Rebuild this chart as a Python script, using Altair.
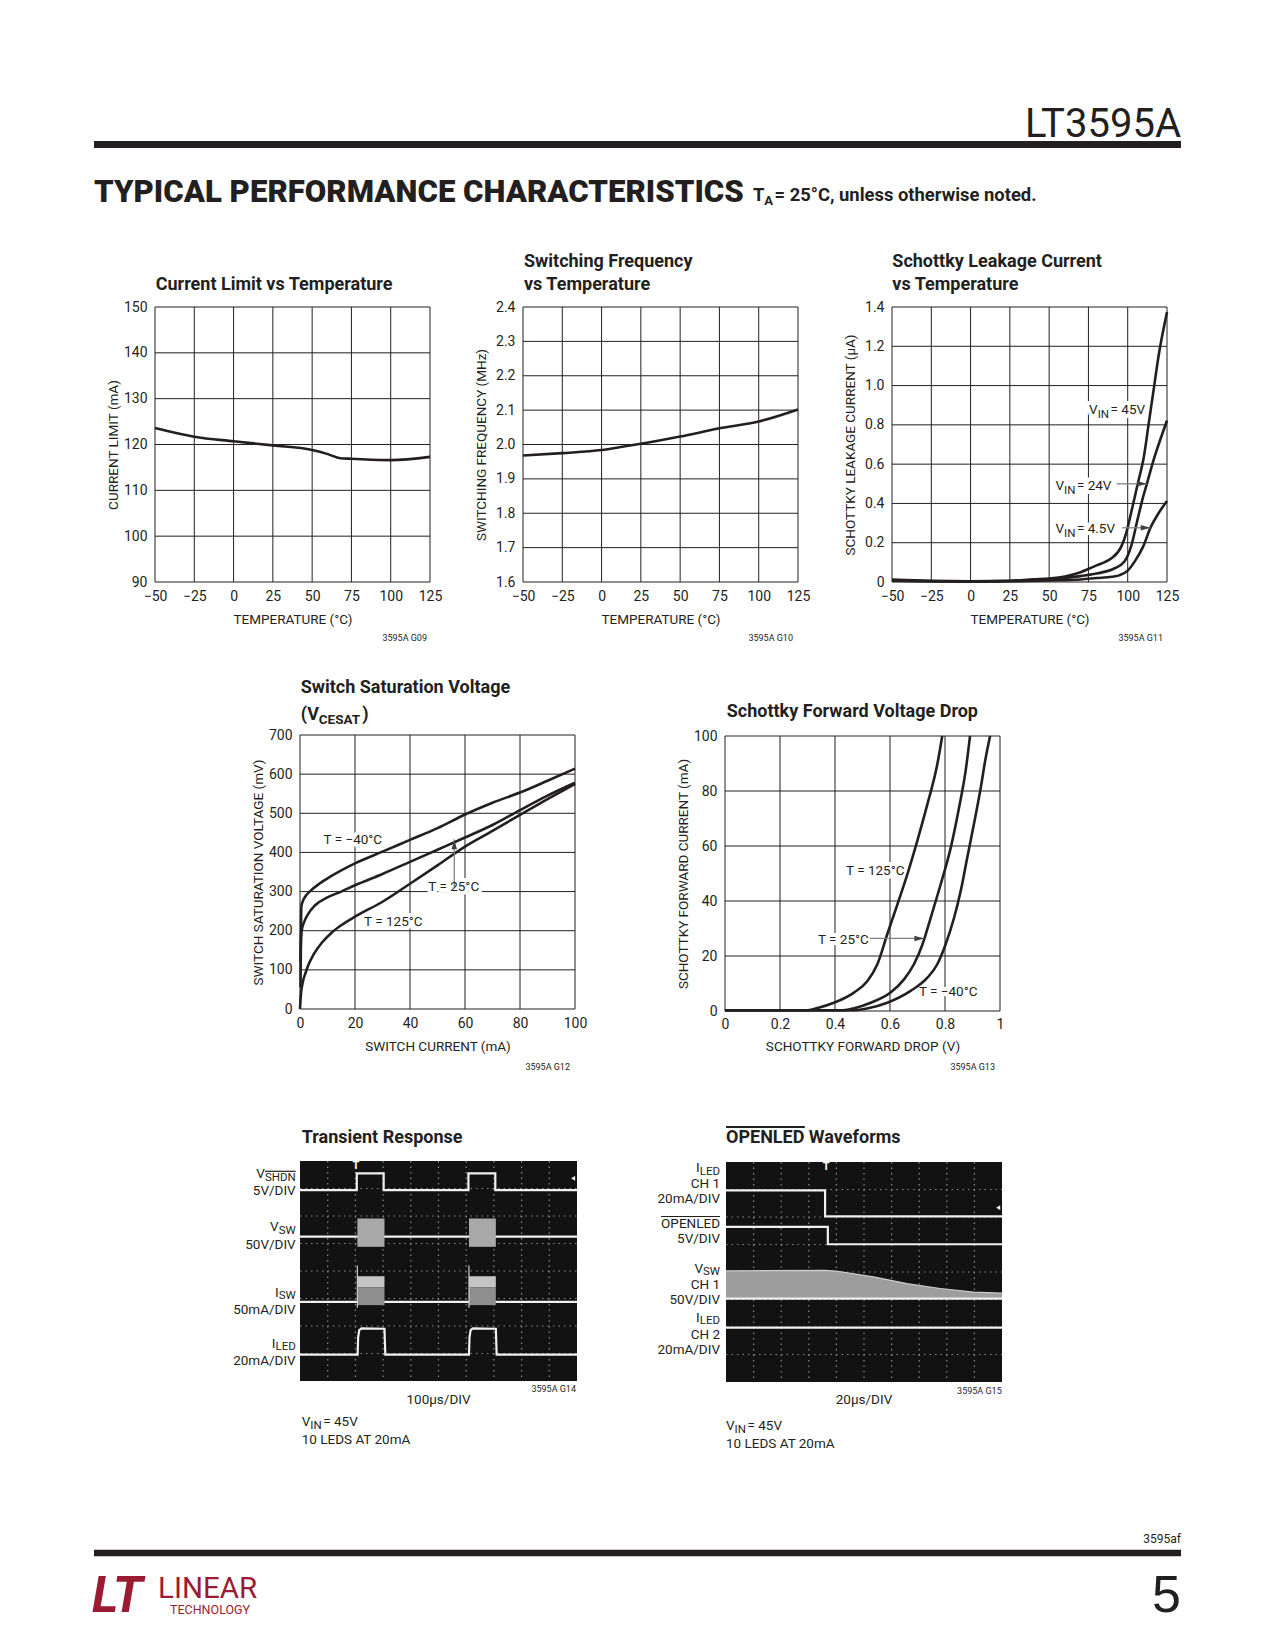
import altair as alt
import pandas as pd

# ============================ chart values ============================
# Current Limit vs Temperature
cl_temp = [-50, -25, 0, 25, 50, 60, 68, 75, 100, 125]
cl_ma = [123.6, 121.7, 120.7, 119.8, 118.8, 117.9, 117.0, 116.9, 116.6, 117.3]

# Switching Frequency vs Temperature
sf_temp = [-50, -25, 0, 14, 25, 50, 75, 100, 125]
sf_mhz = [1.968, 1.975, 1.984, 1.994, 2.002, 2.023, 2.047, 2.067, 2.102]

# Schottky Leakage Current vs Temperature
lk45_t = [-50, -25, 0, 25, 40, 50, 60, 70, 76, 81, 85, 89.7, 95.9, 99, 102.1, 106.2, 110.3, 113.4, 116.5, 119.6, 125]
lk45_ua = [0.012, 0.006, 0.004, 0.006, 0.014, 0.018, 0.028, 0.05, 0.07, 0.087, 0.1, 0.121, 0.18, 0.248, 0.35, 0.494, 0.639, 0.809, 0.979, 1.149, 1.375]
lk24_t = [-50, 0, 25, 50, 60, 70, 81, 91.7, 97.9, 102.1, 106.2, 109.3, 112.4, 116.5, 120.7, 125]
lk24_ua = [0.008, 0.003, 0.005, 0.013, 0.02, 0.03, 0.044, 0.07, 0.104, 0.18, 0.316, 0.418, 0.506, 0.622, 0.724, 0.822]
lk4_t = [-50, 0, 25, 50, 70, 80, 90, 95, 100, 104.5, 109.8, 114.5, 119.6, 125]
lk4_ua = [0.006, 0.002, 0.004, 0.008, 0.013, 0.02, 0.027, 0.035, 0.058, 0.105, 0.18, 0.277, 0.35, 0.412]

# Switch Saturation Voltage
sat_m40_ma = [0.2, 0.3, 0.4, 0.5, 1, 2, 4, 7, 11, 20, 30, 40, 50, 60, 70, 80, 90, 100]
sat_m40_mv = [55, 150, 230, 262, 275, 288, 303, 320, 338, 372, 402, 432, 462, 497, 527, 553, 583, 614]
sat_25_ma = [0.15, 0.3, 0.6, 1.5, 3, 5.5, 10, 15, 20, 30, 40, 50, 60, 70, 80, 90, 100]
sat_25_mv = [120, 165, 200, 222, 243, 265, 285, 300, 316, 345, 376, 407, 438, 470, 508, 545, 578]
sat_125_ma = [0, 0.3, 1, 2, 3, 5, 8, 11.5, 15, 20, 30, 40, 50, 60, 70, 80, 90, 100]
sat_125_mv = [0, 35, 68, 92, 112, 140, 170, 195, 214, 236, 274, 320, 367, 415, 455, 496, 536, 575]

# Schottky Forward Voltage Drop
fw125_v = [0, 0.30, 0.34, 0.396, 0.469, 0.518, 0.554, 0.590, 0.627, 0.663, 0.699, 0.736, 0.772, 0.790]
fw125_ma = [0.3, 0.3, 1.2, 3.0, 6.7, 10.9, 17, 27.9, 38.8, 49.7, 61.8, 75.2, 89.7, 100]
fw25_v = [0, 0.43, 0.47, 0.53, 0.602, 0.651, 0.687, 0.718, 0.748, 0.784, 0.821, 0.851, 0.875, 0.891]
fw25_ma = [0.3, 0.3, 1.0, 3.0, 6.7, 11.5, 17, 24.2, 33.9, 46, 59.4, 73.9, 87.3, 100]
fwm40_v = [0, 0.47, 0.52, 0.590, 0.675, 0.736, 0.772, 0.802, 0.833, 0.857, 0.881, 0.905, 0.930, 0.948, 0.964]
fwm40_ma = [0.3, 0.3, 1.0, 3.0, 7.3, 12.1, 17, 24.2, 33.9, 43.6, 55.8, 67.9, 81.2, 92.1, 100]

# Transient Response scope traces (time div 0..10, screen div 0..8 from top)
tr_shdn_t = [0, 2.05, 2.05, 3.02, 3.02, 6.08, 6.08, 7.05, 7.05, 10]
tr_shdn_y = [1.06, 1.06, 0.45, 0.45, 1.06, 1.06, 0.45, 0.45, 1.06, 1.06]
tr_vsw_base = 2.75
tr_isw_base = 5.12
tr_burst_on = [2.07, 6.1]
tr_burst_off = [3.05, 7.07]
tr_vsw_top, tr_vsw_bot = 2.09, 3.12
tr_isw_top, tr_isw_mid, tr_isw_bot = 4.19, 4.6, 5.24
tr_isw_spike = 3.8
tr_iled_t = [0, 2.08, 2.1, 2.14, 2.22, 3.05, 3.08, 6.1, 6.12, 6.16, 6.24, 7.07, 7.1, 10]
tr_iled_y = [7.04, 7.04, 6.4, 6.15, 6.09, 6.1, 7.04, 7.04, 6.4, 6.15, 6.09, 6.1, 7.04, 7.04]

# OPENLED Waveforms scope traces
ow_iled1_t = [0, 3.59, 3.59, 10]
ow_iled1_y = [1.03, 1.03, 1.98, 1.98]
ow_open_t = [0, 3.69, 3.69, 10]
ow_open_y = [2.36, 2.36, 2.99, 2.99]
ow_vsw_t = [0, 3.6, 4.0, 5.34, 6.55, 7.76, 8.97, 10]
ow_vsw_top = [3.96, 3.94, 3.97, 4.18, 4.42, 4.6, 4.73, 4.77]
ow_vsw_base = 4.97
ow_iled2 = 6.02

temp_ticks = [-50, -25, 0, 25, 50, 75, 100, 125]

# ============================ styling / layout ============================
OFF = 8
W, H = 1259, 1634
INK = "#231f20"
FONT = "Roboto, sans-serif"
WIDE = "Liberation Sans, Arial, sans-serif"
LOGO = "#9a1b32"
SCOPE_BG = "#121212"
TRACE = "#f0f0f0"
FS = 13.5     # regular text size
LS = 14       # tick label size
SUB = 11.5    # subscript size
SUBDY = 3.5
GAP = 1.6     # extra room after a subscript
TS = 18       # bold chart title size
ONE = pd.DataFrame({"k": [0]})


def _tbl(pairs):
    d = {}
    for chars, w in pairs:
        for c in chars:
            d[c] = w
    return d


# approximate Roboto advance widths (em)
REGW = _tbl([("0123456789", .562), (" ", .248), (".", .263), (",", .196), ("/", .411), ("=", .549),
             ("\u2212", .566), ("-", .276), ("(", .342), (")", .348), ("\u00b0", .377), ("\u00b5", .565),
             ("A", .652), ("B", .622), ("C", .652), ("D", .655), ("E", .568), ("F", .553), ("G", .682),
             ("H", .713), ("I", .272), ("L", .538), ("M", .873), ("N", .713), ("O", .688), ("P", .631),
             ("R", .616), ("S", .593), ("T", .597), ("U", .648), ("V", .636), ("W", .887), ("Y", .601)])
BOLDW = _tbl([("0123456789", .562), (" ", .243), ("(", .347), (")", .350), ("=", .55), ("\u00b0", .38),
              ("A", .668), ("C", .653), ("D", .657), ("E", .566), ("H", .714), ("I", .285), ("L", .547),
              ("N", .713), ("O", .688), ("P", .641), ("R", .625), ("S", .609), ("T", .612), ("V", .656),
              ("Y", .637)])


def wid(s, size, bold=False):
    t = BOLDW if bold else REGW
    return sum(t.get(c, .55) for c in s) * size


def ptext(x, y, s, size=FS, bold=False, align="left", baseline="alphabetic", color=INK,
          dx=0, dy=0, font=FONT, weight=None, **extra):
    mk = dict(text=s, font=font, fontSize=size,
              fontWeight=weight if weight else ("bold" if bold else "normal"),
              align=align, baseline=baseline, fill=color, dx=dx, dy=dy)
    mk.update(extra)
    return alt.Chart(ONE).mark_text(**mk).encode(x=alt.value(x - OFF), y=alt.value(y - OFF))


def part_widths(parts):
    # a subscript (dy > 0) followed by more text gets a little extra room
    ws = []
    for k, (s, sz, b, dy) in enumerate(parts):
        w = wid(s, sz, b)
        if dy > 0 and k < len(parts) - 1:
            w += GAP
        ws.append(w)
    return ws


def pcomp(x, y, parts, align="left", color=INK):
    ws = part_widths(parts)
    tot = sum(ws)
    cur = -tot if align == "right" else (-tot / 2 if align == "center" else 0)
    out = []
    for (s, sz, b, dy), w in zip(parts, ws):
        out.append(ptext(x, y, s, sz, b, "left", dx=round(cur, 2), dy=dy, color=color))
        cur += w
    return out


def prule(x1, x2, y, w, color=INK):
    return alt.Chart(ONE).mark_rule(color=color, strokeWidth=w).encode(
        x=alt.value(x1 - OFF), x2=alt.value(x2 - OFF), y=alt.value(y - OFF))


def enc_xy(xs, ys):
    return dict(x=alt.X("x:Q", scale=xs, axis=None), y=alt.Y("y:Q", scale=ys, axis=None))


def dcomp(xs, ys, xv, yv, parts, halo):
    df = pd.DataFrame({"x": [xv], "y": [yv]})
    ws = part_widths(parts)
    out = []
    cur = 0
    for (s, sz, b, dy), w in zip(parts, ws):
        mk = dict(text=s, font=FONT, fontSize=sz, fontWeight="bold" if b else "normal",
                  align="left", baseline="alphabetic", dx=round(cur, 2), dy=dy)
        if halo:
            mk.update(fill="white", stroke="white", strokeWidth=8, strokeJoin="round")
        else:
            mk.update(fill=INK)
        out.append(alt.Chart(df).mark_text(**mk).encode(**enc_xy(xs, ys)))
        cur += w
    return out


def frame(box, xdom, ydom, xticks, yticks, xtitle, ytitle, xfmt="d", yfmt="d",
          xexpr=None, yexpr=None, xtitle_y=41, xlab_pad=18):
    l, t, r, b = box
    xs = alt.Scale(domain=xdom, range=[l - OFF, r - OFF], nice=False, zero=False)
    ys = alt.Scale(domain=ydom, range=[b - OFF, t - OFF], nice=False, zero=False)
    vdf = pd.DataFrame({"v": xticks, "lo": [ydom[0]] * len(xticks), "hi": [ydom[1]] * len(xticks)})
    hdf = pd.DataFrame({"v": yticks, "lo": [xdom[0]] * len(yticks), "hi": [xdom[1]] * len(yticks)})
    common = dict(grid=False, ticks=False, tickSize=0, domain=False, labelFont=FONT, labelFontSize=LS,
                  labelColor=INK, titleFont=FONT, titleFontSize=FS, titleFontWeight="normal",
                  titleColor=INK, labelOverlap=False, labelFlush=False)
    xa = dict(common, orient="bottom", offset=(b - OFF) - H, values=xticks, title=xtitle,
              labelPadding=xlab_pad, labelBaseline="alphabetic", titleY=xtitle_y,
              titleBaseline="alphabetic", format=xfmt)
    if xexpr:
        xa["labelExpr"] = xexpr
    ya = dict(common, orient="left", offset=-(l - OFF), values=yticks, title=ytitle, labelPadding=8,
              labelAlign="right", labelBaseline="middle", titleX=-38, titleAngle=270,
              titleBaseline="alphabetic", titleAlign="center", format=yfmt)
    if yexpr:
        ya["labelExpr"] = yexpr
    vgrid = alt.Chart(vdf).mark_rule(color=INK, strokeWidth=1).encode(
        x=alt.X("v:Q", scale=xs, axis=alt.Axis(**xa)),
        y=alt.Y("lo:Q", scale=ys, axis=None), y2="hi:Q")
    hgrid = alt.Chart(hdf).mark_rule(color=INK, strokeWidth=1).encode(
        y=alt.Y("v:Q", scale=ys, axis=alt.Axis(**ya)),
        x=alt.X("lo:Q", scale=xs, axis=None), x2="hi:Q")
    return xs, ys, [vgrid, hgrid]


def curves(xs, ys, series, width=2.6, color=INK, interp="monotone"):
    rows = []
    for k, (xa, ya) in enumerate(series):
        for i, (a, b) in enumerate(zip(xa, ya)):
            rows.append({"s": k, "i": i, "x": a, "y": b})
    df = pd.DataFrame(rows)
    return alt.Chart(df).mark_line(color=color, strokeWidth=width, interpolate=interp).encode(
        detail="s:N", order="i:Q", **enc_xy(xs, ys))


HEAD_R = "M0,0L-1,-0.28L-1,0.28Z"
HEAD_U = "M0,0L-0.28,1L0.28,1Z"


def arrow(xs, ys, x1, y1, x2, y2, head):
    ldf = pd.DataFrame({"x": [x1], "y": [y1], "x2": [x2], "y2": [y2]})
    line = alt.Chart(ldf).mark_rule(color="#808285", strokeWidth=1.3).encode(
        x2="x2:Q", y2="y2:Q", **enc_xy(xs, ys))
    hdf = pd.DataFrame({"x": [x2], "y": [y2]})
    hd = alt.Chart(hdf).mark_point(shape=head, filled=True, color="#414042", size=380,
                                   opacity=1, strokeWidth=0).encode(**enc_xy(xs, ys))
    return [line, hd]


def label_set(xs, ys, items):
    halos, texts = [], []
    for xv, yv, parts in items:
        halos += dcomp(xs, ys, xv, yv, parts, True)
        texts += dcomp(xs, ys, xv, yv, parts, False)
    return halos, texts


def reg(s):
    return [(s, FS, False, 0)]


def vin(v, dy=SUBDY):
    return [("V", FS, False, 0), ("IN", SUB, False, dy), (" = " + v, FS, False, 0)]


def subl(main, sub, dy=SUBDY):
    return [(main, FS, False, 0), (sub, SUB, False, dy)]


layers = []

# ----------------------------------------------------------------- header
layers.append(ptext(1181, 137, "LT3595A", 40, align="right"))
layers.append(prule(94, 1181, 144.5, 7))
layers.append(ptext(94, 202, "TYPICAL PERFORMANCE CHARACTERISTICS", 31.2, weight=900))
layers += pcomp(753, 201, [("T", 18.4, True, 0), ("A", 13, True, 4),
                           (" = 25\u00b0C, unless otherwise noted.", 18.4, True, 0)])

# ----------------------------------------------------------------- chart 1
C1 = (155, 307, 430, 582)
xs, ys, fr = frame(C1, [-50, 125], [90, 150], temp_ticks, [90, 100, 110, 120, 130, 140, 150],
                   "TEMPERATURE (\u00b0C)", "CURRENT LIMIT (mA)")
layers += fr
layers.append(curves(xs, ys, [(cl_temp, cl_ma)]))
layers.append(ptext(155.7, 290, "Current Limit vs Temperature", TS, True))
layers.append(ptext(427, 638, "3595A G09", 9, align="right", baseline="middle"))

# ----------------------------------------------------------------- chart 2
C2 = (523, 307, 798, 582)
xs, ys, fr = frame(C2, [-50, 125], [1.6, 2.4], temp_ticks, [1.6, 1.7, 1.8, 1.9, 2.0, 2.1, 2.2, 2.3, 2.4],
                   "TEMPERATURE (\u00b0C)", "SWITCHING FREQUENCY (MHz)", yfmt=".1f")
layers += fr
layers.append(curves(xs, ys, [(sf_temp, sf_mhz)]))
layers.append(ptext(524, 267.3, "Switching Frequency", TS, True))
layers.append(ptext(524, 290, "vs Temperature", TS, True))
layers.append(ptext(793, 638, "3595A G10", 9, align="right", baseline="middle"))

# ----------------------------------------------------------------- chart 3
C3 = (892, 307, 1167, 582)
xs, ys, fr = frame(C3, [-50, 125], [0, 1.4], temp_ticks, [0, 0.2, 0.4, 0.6, 0.8, 1.0, 1.2, 1.4],
                   "TEMPERATURE (\u00b0C)", "SCHOTTKY LEAKAGE CURRENT (\u00b5A)", yfmt=".1f",
                   yexpr="datum.value == 0 ? '0' : datum.label")
layers += fr
halos, texts = label_set(xs, ys, [(75.4, 0.853, vin("45V")),
                                  (54.0, 0.466, vin("24V")),
                                  (54.0, 0.247, vin("4.5V"))])
layers += halos
layers.append(curves(xs, ys, [(lk45_t, lk45_ua), (lk24_t, lk24_ua), (lk4_t, lk4_ua)]))
layers += arrow(xs, ys, 93.0, 0.5, 112.2, 0.5, HEAD_R)
layers += arrow(xs, ys, 96.5, 0.276, 114.5, 0.276, HEAD_R)
layers += texts
layers.append(ptext(892.3, 267.3, "Schottky Leakage Current", TS, True))
layers.append(ptext(892.3, 290, "vs Temperature", TS, True))
layers.append(ptext(1163, 638, "3595A G11", 9, align="right", baseline="middle"))

# ----------------------------------------------------------------- chart 4
C4 = (300, 735, 575, 1009)
xs, ys, fr = frame(C4, [0, 100], [0, 700], [0, 20, 40, 60, 80, 100],
                   [0, 100, 200, 300, 400, 500, 600, 700],
                   "SWITCH CURRENT (mA)", "SWITCH SATURATION VOLTAGE (mV)", xtitle_y=41.5)
layers += fr
halos, texts = label_set(xs, ys, [(8.55, 422.8, reg("T = \u221240\u00b0C")),
                                  (46.65, 300.2, reg("T = 25\u00b0C")),
                                  (23.3, 210.8, reg("T = 125\u00b0C"))])
layers += halos
layers.append(curves(xs, ys, [(sat_m40_ma, sat_m40_mv), (sat_25_ma, sat_25_mv), (sat_125_ma, sat_125_mv)]))
layers += arrow(xs, ys, 56.1, 311, 56.1, 433, HEAD_U)
layers += texts
layers.append(ptext(300.7, 693, "Switch Saturation Voltage", TS, True))
layers += pcomp(300.7, 719.5, [("(V", TS, True, 0), ("CESAT", 13.5, True, 4), (")", TS, True, 0)])
layers.append(ptext(570, 1067, "3595A G12", 9, align="right", baseline="middle"))

# ----------------------------------------------------------------- chart 5
C5 = (725, 736, 1000, 1011)
xs, ys, fr = frame(C5, [0, 1], [0, 100], [0, 0.2, 0.4, 0.6, 0.8, 1.0], [0, 20, 40, 60, 80, 100],
                   "SCHOTTKY FORWARD DROP (V)", "SCHOTTKY FORWARD CURRENT (mA)", xfmt=".1f",
                   xexpr="datum.value == 0 ? '0' : datum.value == 1 ? '1' : datum.label",
                   xtitle_y=39.5, xlab_pad=17)
layers += fr
halos, texts = label_set(xs, ys, [(0.44, 49.3, reg("T = 125\u00b0C")),
                                  (0.338, 24.4, reg("T = 25\u00b0C")),
                                  (0.705, 5.6, reg("T = \u221240\u00b0C"))])
layers += halos
layers.append(curves(xs, ys, [(fw125_v, fw125_ma), (fw25_v, fw25_ma), (fwm40_v, fwm40_ma)]))
layers += arrow(xs, ys, 0.527, 26.4, 0.724, 26.4, HEAD_R)
layers += texts
layers.append(ptext(726.7, 717, "Schottky Forward Voltage Drop", TS, True))
layers.append(ptext(995, 1067, "3595A G13", 9, align="right", baseline="middle"))


# ----------------------------------------------------------------- scopes
def scope_frame(box):
    l, t, r, b = box
    xs = alt.Scale(domain=[0, 10], range=[l - OFF, r - OFF], nice=False, zero=False)
    ys = alt.Scale(domain=[0, 8], range=[t - OFF, b - OFF], nice=False, zero=False)
    bg = alt.Chart(pd.DataFrame({"x": [0], "x2": [10], "y": [0], "y2": [8]})).mark_rect(
        color=SCOPE_BG).encode(x2="x2:Q", y2="y2:Q", **enc_xy(xs, ys))
    vdf = pd.DataFrame({"x": list(range(1, 10)), "y": [0] * 9, "y2": [8] * 9})
    hdf = pd.DataFrame({"y": list(range(1, 8)), "x": [0] * 7, "x2": [10] * 7})
    vg = alt.Chart(vdf).mark_rule(color="#8a8a8a", strokeWidth=1.2, strokeDash=[1.5, 4]).encode(
        y2="y2:Q", **enc_xy(xs, ys))
    hg = alt.Chart(hdf).mark_rule(color="#8a8a8a", strokeWidth=1.2, strokeDash=[1.5, 4]).encode(
        x2="x2:Q", **enc_xy(xs, ys))
    return xs, ys, [bg, vg, hg]


def rects(xs, ys, t0, t1, y0, y1, color):
    df = pd.DataFrame({"x": t0, "x2": t1, "y": [y0] * len(t0), "y2": [y1] * len(t0)})
    return alt.Chart(df).mark_rect(color=color).encode(x2="x2:Q", y2="y2:Q", **enc_xy(xs, ys))


def markers(xs, ys, trig_t, right_y):
    tdf = pd.DataFrame({"x": [trig_t], "y": [0.17]})
    tt = alt.Chart(tdf).mark_text(text="T", font=FONT, fontSize=11, fontWeight="bold", fill="white",
                                  baseline="middle").encode(**enc_xy(xs, ys))
    rdf = pd.DataFrame({"x": [9.86], "y": [right_y]})
    rt = alt.Chart(rdf).mark_point(shape="triangle-left", filled=True, color="white", size=22,
                                   opacity=1).encode(**enc_xy(xs, ys))
    return [tt, rt]


S1 = (300, 1161, 577, 1381)
xs, ys, fr = scope_frame(S1)
layers += fr
layers.append(curves(xs, ys, [([0, 10], [tr_vsw_base] * 2), ([0, 10], [tr_isw_base] * 2)],
                     width=2.2, color=TRACE, interp="linear"))
layers.append(rects(xs, ys, tr_burst_on, tr_burst_off, tr_vsw_top, tr_vsw_bot, "#a8a8a8"))
layers.append(rects(xs, ys, tr_burst_on, tr_burst_off, tr_isw_top, tr_isw_mid, "#c4c4c4"))
layers.append(rects(xs, ys, tr_burst_on, tr_burst_off, tr_isw_mid, tr_isw_bot, "#8e8e8e"))
spk = pd.DataFrame({"x": tr_burst_on, "y": [tr_isw_spike] * 2, "y2": [tr_isw_bot + 0.1] * 2})
layers.append(alt.Chart(spk).mark_rule(color="#cfcfcf", strokeWidth=1.2).encode(y2="y2:Q", **enc_xy(xs, ys)))
layers.append(curves(xs, ys, [(tr_shdn_t, tr_shdn_y), (tr_iled_t, tr_iled_y)],
                     width=2.2, color=TRACE, interp="linear"))
layers += markers(xs, ys, 2.02, 0.63)
layers.append(ptext(301.7, 1143, "Transient Response", TS, True))
layers += pcomp(295.7, 1177.5, subl("V", "SHDN", 3), align="right")
layers.append(prule(295.7 - wid("SHDN", SUB), 295.7, 1171.3, 1.2))
layers.append(ptext(295.7, 1194.5, "5V/DIV", align="right"))
layers += pcomp(295.7, 1231, subl("V", "SW", 3), align="right")
layers.append(ptext(295.7, 1248.5, "50V/DIV", align="right"))
layers += pcomp(295.7, 1296.5, subl("I", "SW", 2.5), align="right")
layers.append(ptext(295.7, 1313.5, "50mA/DIV", align="right"))
layers += pcomp(295.7, 1347.5, subl("I", "LED", 2.5), align="right")
layers.append(ptext(295.7, 1364.5, "20mA/DIV", align="right"))
layers.append(ptext(576, 1389, "3595A G14", 9, align="right", baseline="middle"))
layers.append(ptext(438.5, 1404, "100\u00b5s/DIV", align="center"))
layers += pcomp(301.7, 1425.5, vin("45V", 3))
layers.append(ptext(301.7, 1443.5, "10 LEDS AT 20mA"))

S2 = (726, 1162, 1002, 1382)
xs, ys, fr = scope_frame(S2)
layers += fr
adf = pd.DataFrame({"x": ow_vsw_t, "top": ow_vsw_top, "base": [ow_vsw_base] * len(ow_vsw_t)})
layers.append(alt.Chart(adf).mark_area(color="#9d9d9d", opacity=1, orient="vertical").encode(
    x=alt.X("x:Q", scale=xs, axis=None), y=alt.Y("top:Q", scale=ys, axis=None), y2="base:Q"))
layers.append(curves(xs, ys, [(ow_vsw_t, ow_vsw_top)], width=1.2, color="#cdcdcd", interp="linear"))
layers.append(curves(xs, ys, [(ow_iled1_t, ow_iled1_y), (ow_open_t, ow_open_y),
                              ([0, 10], [ow_vsw_base] * 2), ([0, 10], [ow_iled2] * 2)],
                     width=2.2, color=TRACE, interp="linear"))
layers += markers(xs, ys, 3.63, 1.66)
layers.append(ptext(726, 1143, "OPENLED Waveforms", TS, True))
layers.append(prule(726, 726 + wid("OPENLED", TS, True), 1127, 1.8))
layers += pcomp(720, 1172, subl("I", "LED", 2.5), align="right")
layers.append(ptext(720, 1187.5, "CH 1", align="right"))
layers.append(ptext(720, 1202.5, "20mA/DIV", align="right"))
layers.append(prule(720 - wid("OPENLED", FS), 720, 1216.5, 1.2))
layers.append(ptext(720, 1228.3, "OPENLED", align="right"))
layers.append(ptext(720, 1243.3, "5V/DIV", align="right"))
layers += pcomp(720, 1272.5, subl("V", "SW", 2.5), align="right")
layers.append(ptext(720, 1288.5, "CH 1", align="right"))
layers.append(ptext(720, 1303.5, "50V/DIV", align="right"))
layers += pcomp(720, 1321.5, subl("I", "LED", 2.5), align="right")
layers.append(ptext(720, 1338.5, "CH 2", align="right"))
layers.append(ptext(720, 1353.5, "20mA/DIV", align="right"))
layers.append(ptext(1001.7, 1391, "3595A G15", 9, align="right", baseline="middle"))
layers.append(ptext(864, 1404, "20\u00b5s/DIV", align="center"))
layers += pcomp(726, 1429.5, vin("45V", 3))
layers.append(ptext(726, 1447.5, "10 LEDS AT 20mA"))

# ----------------------------------------------------------------- footer
layers.append(ptext(1181, 1543, "3595af", 12, align="right"))
layers.append(prule(94, 1181, 1553, 6.5))
layers.append(ptext(1181, 1612, "5", 52, align="right", font=WIDE))
layers.append(ptext(92, 1612, "LT", 50, True, color=LOGO, fontStyle="italic"))
layers.append(ptext(158, 1597.5, "LINEAR", 29.5, color=LOGO))
layers.append(ptext(170, 1614, "TECHNOLOGY", 12.5, color=LOGO))

chart = alt.layer(*layers).properties(
    width=W, height=H, padding=0, background="white",
    autosize=alt.AutoSizeParams(type="none"),
).resolve_scale(x="independent", y="independent").resolve_axis(
    x="independent", y="independent").configure_view(stroke=None)

chart.save("out.html", embed_options={"renderer": "svg", "actions": False})
